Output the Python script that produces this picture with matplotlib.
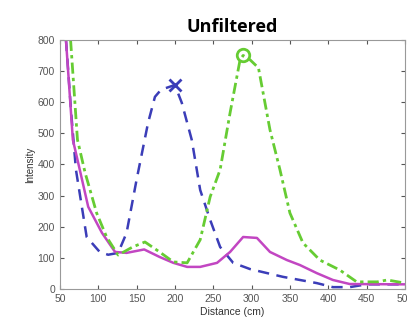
## import libraries ##
import matplotlib.pyplot as plt
import numpy as np

plt.rcParams['font.family'] = ['Liberation Sans', 'DejaVu Sans']

## data ##
blue_x = [58, 65, 71, 85, 102, 113, 126, 137, 150, 165, 174, 182, 200, 209, 222, 233, 246, 259, 276, 298, 341, 385, 406, 428, 450, 500]
blue_y = [800, 560, 383, 167, 119, 110, 116, 180, 350, 533, 617, 640, 655, 598, 479, 318, 222, 135, 84, 64, 39, 19, 6, 6, 15, 15]

pink_x = [58, 67, 76, 87, 105, 122, 137, 160, 180, 198, 216, 233, 255, 272, 289, 307, 324, 346, 363, 385, 406, 428, 500]
pink_y = [800, 479, 383, 264, 180, 119, 116, 127, 103, 84, 71, 71, 84, 119, 167, 164, 119, 93, 77, 51, 29, 16, 15]

green_x = [64, 73, 83, 98, 111, 126, 145, 161, 180, 198, 216, 233, 246, 259, 272, 285, 289, 298, 309, 324, 337, 350, 367, 389, 415, 437, 464, 477, 500]
green_y = [800, 479, 373, 244, 167, 109, 135, 151, 119, 87, 84, 158, 296, 383, 566, 736, 750, 736, 710, 511, 383, 244, 148, 93, 61, 23, 23, 29, 19]

blue_peak = (200, 655)
green_peak = (289, 752)

## set up figure ##
fig = plt.figure(figsize=(4.07, 3.24), dpi=100)
ax = fig.add_axes([0.147, 0.108, 0.848, 0.769])

ax.plot(blue_x, blue_y, color='#3b3db8', lw=1.8, ls=(0, (4.5, 3)))
ax.plot(pink_x, pink_y, color='#c246c2', lw=1.8)
ax.plot(green_x, green_y, color='#66cc33', lw=2.0, ls=(0, (4, 1.5, 1.2, 1.5)))
ax.plot(*blue_peak, marker='x', ms=8, mew=2, color='#3b3db8')
ax.plot(*green_peak, marker='o', ms=9, mew=2, mfc='none', color='#66cc33')

ax.set_xlim(50, 500)
ax.set_ylim(0, 800)
ax.set_xticks(np.arange(50, 501, 50))
ax.set_yticks(np.arange(0, 801, 100))
ax.tick_params(direction='in', top=True, right=True, labelsize=7.5, colors='#555555', length=3)
for s in ax.spines.values():
    s.set_color('#999999')
    s.set_linewidth(0.8)

ax.set_xlabel('Distance (cm)', fontsize=7.5, color='#333333', labelpad=2)
ax.set_ylabel('Intensity', fontsize=7, color='#333333', labelpad=2)
ax.set_title('Unfiltered', fontsize=13, fontweight='bold', pad=6, family='Open Sans')

## save chart ##
fig.savefig('out.png', dpi=100)
